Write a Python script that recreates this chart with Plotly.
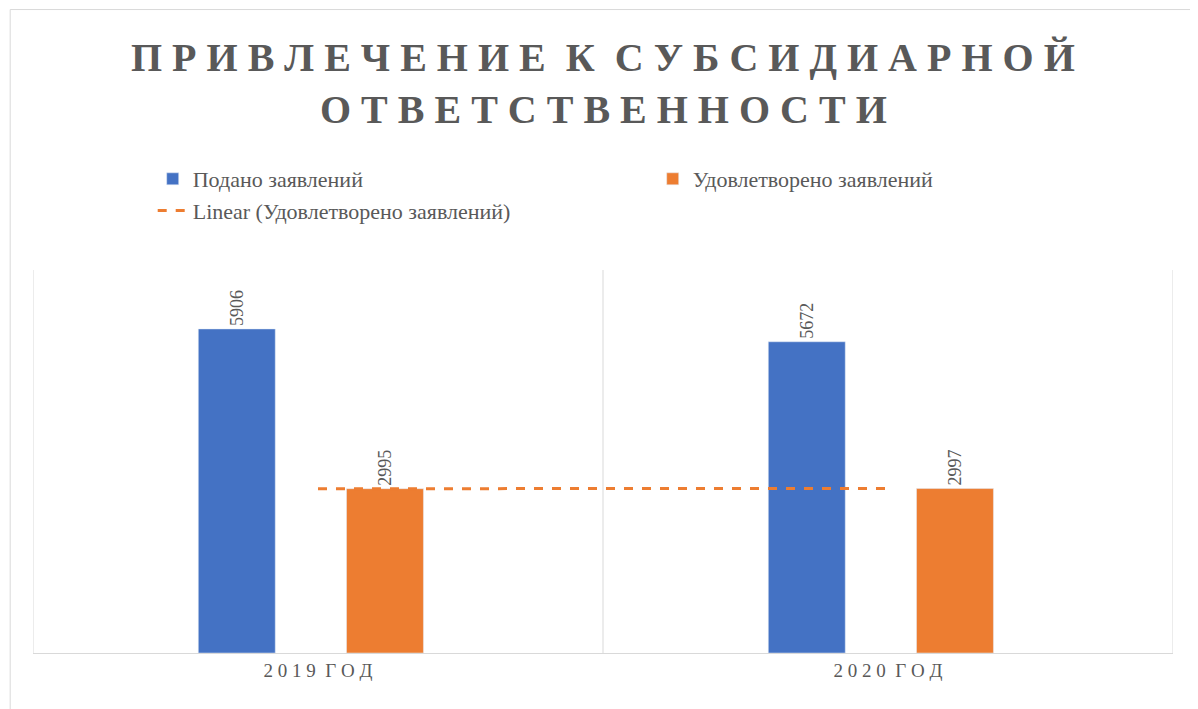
import plotly.graph_objects as go

categories = ["2 0 1 9  Г О Д", "2 0 2 0  Г О Д"]
filed = [5906, 5672]
granted = [2995, 2997]
trend = [2995, 2997]

x = [0, 1]
fig = go.Figure()
fig.add_bar(x=x, y=filed, name="Подано заявлений", marker_color="#4472C4",
            width=0.135, offset=-0.21, text=[str(v) for v in filed],
            textposition="outside", textangle=-90, cliponaxis=False,
            textfont=dict(family="Liberation Serif", size=18, color="#595959"))
fig.add_bar(x=x, y=granted, name="Удовлетворено заявлений", marker_color="#ED7D31",
            width=0.135, offset=0.05, text=[str(v) for v in granted],
            textposition="outside", textangle=-90, cliponaxis=False,
            textfont=dict(family="Liberation Serif", size=18, color="#595959"))
fig.add_scatter(x=x, y=trend, mode="lines", name="Linear (Удовлетворено заявлений)",
                line=dict(color="#ED7D31", width=3, dash="dash"))

shapes = [dict(type="line", xref="x", yref="paper", x0=v, x1=v, y0=0, y1=1,
               line=dict(color="#D9D9D9", width=1)) for v in (-0.5, 0.5, 1.5)]
shapes.append(dict(type="rect", xref="paper", yref="paper", x0=-0.02, x1=1.025,
                   y0=-0.155, y1=1.68, line=dict(color="#D9D9D9", width=1)))

title_font = dict(family="Liberation Serif", size=40, color="#595959")
annotations = [
    dict(text="<b>П Р И В Л Е Ч Е Н И Е  К  С У Б С И Д И А Р Н О Й</b>", xref="paper", yref="paper",
         x=0.5, y=(645 - 50) / 383, xanchor="center", yanchor="middle", showarrow=False, font=title_font),
    dict(text="<b>О Т В Е Т С Т В Е Н Н О С Т И</b>", xref="paper", yref="paper",
         x=0.5, y=(645 - 102) / 383, xanchor="center", yanchor="middle", showarrow=False, font=title_font),
]

fig.update_layout(
    width=1198, height=709, plot_bgcolor="white", paper_bgcolor="white",
    margin=dict(l=25, r=33, t=262, b=64),
    annotations=annotations,
    showlegend=True,
    legend=dict(orientation="h", x=0.105, y=(645 - 150) / 383, xanchor="left", yanchor="top",
                entrywidth=455, tracegroupgap=20,
                font=dict(family="Liberation Serif", size=22, color="#595959")),
    barmode="overlay",
    xaxis=dict(range=[-0.5, 1.5], tickvals=x, ticktext=categories, showgrid=False,
               showline=True, linecolor="#D9D9D9", zeroline=False, ticks="",
               tickfont=dict(family="Liberation Serif", size=19, color="#595959")),
    yaxis=dict(range=[0, 6980], visible=False),
    shapes=shapes,
)
fig.write_html("out.html")
